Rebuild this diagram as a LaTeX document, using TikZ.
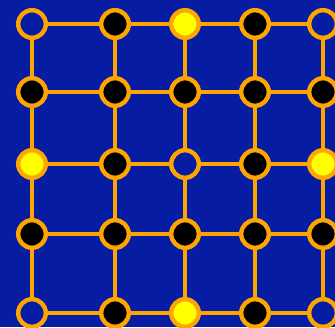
\documentclass[tikz,border=0pt]{standalone}
\usepackage{tikz}
\definecolor{boardblue}{RGB}{6,28,162}
\definecolor{ringorange}{RGB}{255,165,0}
\definecolor{pegyellow}{RGB}{255,255,0}

\begin{document}
\begin{tikzpicture}[x=1pt,y=-1pt,
  every node/.style={circle,draw=ringorange,line width=4.4pt,minimum size=27.6pt,inner sep=0pt},
  hole/.style={fill=none},
  peg/.style={fill=black},
  gold/.style={fill=pegyellow},
  link/.style={draw=ringorange,line width=4.2pt}]
\useasboundingbox (0,0) rectangle (335,327);
\clip (0,0) rectangle (335,327);
\fill[boardblue] (0,0) rectangle (335,327);

\foreach \r/\y/\kinds in {1/24/{hole,peg,gold,peg,hole},
                          2/92/{peg,peg,peg,peg,peg},
                          3/164/{gold,peg,hole,peg,gold},
                          4/234/{peg,peg,peg,peg,peg},
                          5/313/{hole,peg,gold,peg,hole}}
  \foreach \k [count=\c] in \kinds {
    \pgfmathsetmacro{\x}{{32,115,185,255,323}[\c-1]}
    \node[\k] (n-\r-\c) at (\x,\y) {};
  }

\foreach \r in {1,...,5}
  \foreach \c [count=\d from 2] in {1,...,4} {
    \draw[link] (n-\r-\c) -- (n-\r-\d);
    \draw[link] (n-\c-\r) -- (n-\d-\r);
  }
\end{tikzpicture}
\end{document}
